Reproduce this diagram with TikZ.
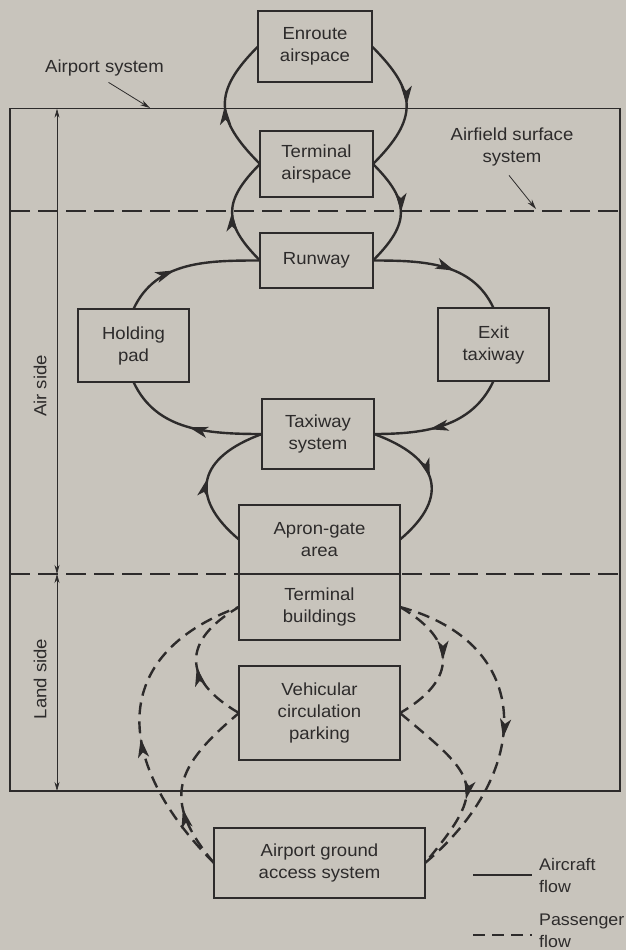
\documentclass[tikz,border=0pt]{standalone}
\usepackage{fontspec}
\setmainfont[FakeStretch=1.06]{Liberation Sans}
\definecolor{paper}{RGB}{200,196,188}
\definecolor{ink}{RGB}{45,43,43}
\usetikzlibrary{arrows.meta,decorations.markings}
\tikzset{
  sysbox/.style={draw=ink, line width=1.1pt, fill=paper, align=center, inner sep=0pt, outer sep=0pt, text=ink, font=\fontsize{17.5}{22}\selectfont},
  note/.style={align=center, inner sep=1pt, text=ink, font=\fontsize{17.5}{22}\selectfont},
  aircraft/.style={draw=ink, line width=2.4pt},
  passenger/.style={draw=ink, line width=2.4pt, dash pattern=on 12pt off 7pt},
  midarrow/.style={postaction={decorate, decoration={markings, mark=at position #1 with {\arrow[scale=1.35]{Stealth[length=14pt,width=8pt,inset=3.5pt]}}}}},
  sepline/.style={draw=ink, line width=1.1pt, dash pattern=on 20pt off 8pt},
  dimline/.style={draw=ink, line width=0.7pt, arrows={Stealth[length=9pt,width=5pt]-Stealth[length=9pt,width=5pt]}},
  pointer/.style={draw=ink, line width=0.8pt, -{Stealth[length=10pt,width=5.5pt]}}
}

\begin{document}
\begin{tikzpicture}[x=1pt, y=1pt]
  \useasboundingbox (0,0) rectangle (626,-950);
  \fill[paper] (0,0) rectangle (626,-950);
  % Airport system frame and zone limits
  \draw[ink, line width=1.1pt] (10,-108.7) rectangle (620,-791);
  \draw[sepline] (10,-211) -- (620,-211);
  \draw[sepline] (10,-574) -- (620,-574);
  % Air side / land side extents
  \coordinate (dimtop) at (57,-108.7);
  \coordinate (dimmid) at (57,-574);
  \coordinate (dimbot) at (57,-791);
  \draw[dimline] (dimtop) -- (dimmid);
  \draw[dimline] (dimmid) -- (dimbot);
  \node[note, rotate=90] (airside) at (40,-386) {Air side};
  \node[note, rotate=90] (landside) at (40,-679) {Land side};
  % Labels with pointers
  \node[note] (syslabel) at (104.5,-68) {Airport system};
  \coordinate (sysmark) at (150,-108);
  \draw[pointer] ([xshift=4pt,yshift=-5pt]syslabel.south) -- (sysmark);
  \node[note] (fieldlabel) at (512,-147) {Airfield surface\\system};
  \coordinate (fieldmark) at (536,-209);
  \draw[pointer] ([xshift=-3pt,yshift=-8pt]fieldlabel.south) -- (fieldmark);
  % Air side boxes
  \node[sysbox, minimum width=114pt, minimum height=71pt] (enroute) at (315,-46.5) {Enroute\\airspace};
  \node[sysbox, minimum width=113pt, minimum height=66pt] (termair) at (316.5,-164) {Terminal\\airspace};
  \node[sysbox, minimum width=113pt, minimum height=55pt] (runway) at (316.5,-260.5) {Runway};
  \node[sysbox, minimum width=111pt, minimum height=73pt] (holding) at (133.5,-345.5) {Holding\\pad};
  \node[sysbox, minimum width=111pt, minimum height=73pt] (exit) at (493.5,-344.5) {Exit\\taxiway};
  \node[sysbox, minimum width=112pt, minimum height=70pt] (taxiway) at (318,-434) {Taxiway\\system};
  \node[sysbox, minimum width=161pt, minimum height=69pt] (apron) at (319.5,-539.5) {Apron-gate\\area};
  % Land side boxes
  \node[sysbox, minimum width=161pt, minimum height=66pt] (termbld) at (319.5,-607) {Terminal\\buildings};
  \node[sysbox, minimum width=161pt, minimum height=94pt] (vehic) at (319.5,-713) {Vehicular\\circulation\\parking};
  \node[sysbox, minimum width=211pt, minimum height=70pt] (ground) at (319.5,-863) {Airport ground\\access system};
  % Aircraft flow
  \draw[aircraft, midarrow=0.5] (termair.west) to[out=135, in=225, looseness=1.4] (enroute.west);
  \draw[aircraft, midarrow=0.5] (enroute.east) to[out=-45, in=45, looseness=1.4] (termair.east);
  \draw[aircraft, midarrow=0.5] (runway.west) to[out=135, in=225, looseness=1.4] (termair.west);
  \draw[aircraft, midarrow=0.5] (termair.east) to[out=-45, in=45, looseness=1.4] (runway.east);
  \draw[aircraft, midarrow=0.4] (holding.north) to[out=65, in=180] (runway.west);
  \draw[aircraft, midarrow=0.6] (runway.east) to[out=0, in=115] (exit.north);
  \draw[aircraft, midarrow=0.6] (exit.south) to[out=-115, in=0] (taxiway.east);
  \draw[aircraft, midarrow=0.5] (taxiway.west) to[out=180, in=-65] (holding.south);
  \draw[aircraft, midarrow=0.5] (apron.west) to[out=140, in=200, looseness=1.6] (taxiway.west);
  \draw[aircraft, midarrow=0.5] (taxiway.east) to[out=-20, in=40, looseness=1.6] (apron.east);
  % Passenger flow
  \draw[passenger, midarrow=0.45] (vehic.west) to[out=150, in=210, looseness=1.6] (termbld.west);
  \draw[passenger, midarrow=0.45] (ground.west) to[out=135, in=200, looseness=1.4] (termbld.west);
  \draw[passenger, midarrow=0.35] (ground.west) to[out=130, in=220, looseness=1.4] (vehic.west);
  \draw[passenger, midarrow=0.5] (termbld.east) to[out=-30, in=30, looseness=1.6] (vehic.east);
  \draw[passenger, midarrow=0.55] (termbld.east) to[out=-15, in=40, looseness=1.4] (ground.east);
  \draw[passenger, midarrow=0.6] (vehic.east) to[out=-40, in=50, looseness=1.7] (ground.east);
  % Legend
  \coordinate (legairA) at (473,-875);
  \coordinate (legairB) at (532,-875);
  \draw[aircraft] (legairA) -- (legairB);
  \node[note, anchor=west, align=left, font=\fontsize{16.8}{22}\selectfont] (legair) at (538,-875) {Aircraft\\flow};
  \coordinate (legpaxA) at (473,-935);
  \coordinate (legpaxB) at (532,-935);
  \draw[passenger] (legpaxA) -- (legpaxB);
  \node[note, anchor=west, align=left, font=\fontsize{16.8}{22}\selectfont] (legpax) at (538,-931) {Passenger\\flow};
\end{tikzpicture}
\end{document}
